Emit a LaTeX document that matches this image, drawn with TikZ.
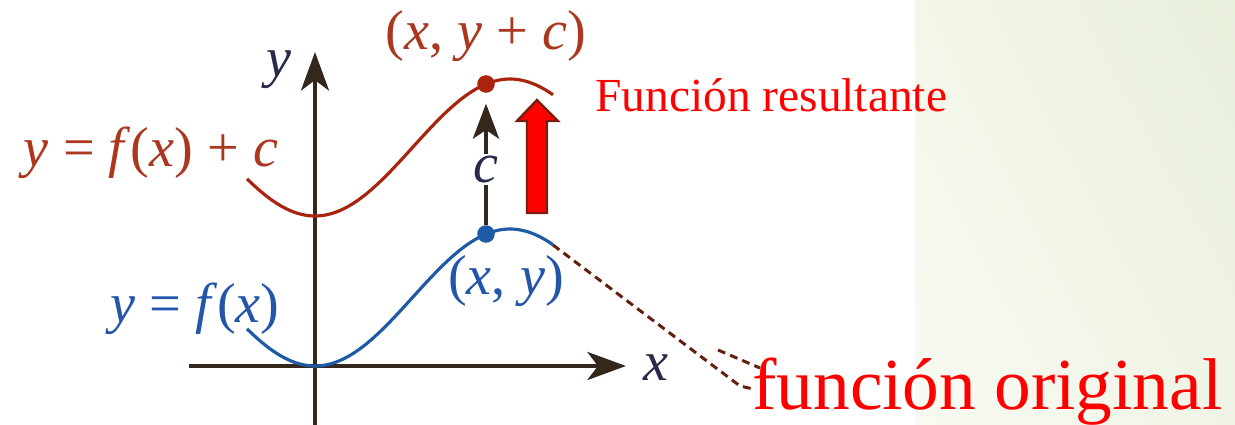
\documentclass[tikz,border=0pt]{standalone}
\usepackage{fontspec}
\setmainfont{Liberation Serif}
\usetikzlibrary{arrows.meta,shadings}
\definecolor{AxisInk}{RGB}{52,40,28}
\definecolor{AxisLbl}{RGB}{40,42,75}
\definecolor{CurveBlue}{RGB}{30,90,165}
\definecolor{CurveRed}{RGB}{170,35,12}
\definecolor{LabelRed}{RGB}{170,55,30}
\definecolor{LabelBlue}{RGB}{35,85,170}
\definecolor{DashBrown}{RGB}{100,32,14}
\definecolor{ArrowEdge}{RGB}{120,30,15}
\definecolor{BgTL}{RGB}{243,246,233}
\definecolor{BgTR}{RGB}{232,239,219}
\definecolor{BgBL}{RGB}{249,251,243}
\definecolor{BgBR}{RGB}{240,244,230}
\tikzset{
  axis/.style={line width=2pt,draw=AxisInk,-{Stealth[length=22pt,width=16pt,inset=6pt]}},
  curve/.style={line width=1.8pt,domain=247:553,samples=80},
  dot/.style={circle,inner sep=0pt,minimum size=10pt},
  mathlbl/.style={font=\fontsize{32pt}{34pt}\selectfont,inner sep=1pt},
  shiftarrow/.style={line width=1.8pt,draw=AxisInk,-{Stealth[length=20pt,width=15pt,inset=5pt]}},
  guide/.style={line width=1.7pt,draw=DashBrown,dash pattern=on 4.5pt off 3pt},
  note/.style={text=red,inner sep=0pt,anchor=base west}
}
\newcommand{\vi}[1]{\textit{#1}}

\begin{document}
\begin{tikzpicture}[x=0.02cm,y=-0.02cm]
\useasboundingbox (0,0) rectangle (1235,425);
% pale backdrop on the right
\shade[upper left=BgTL,upper right=BgTR,lower left=BgBL,lower right=BgBR] (915,0) rectangle (1235,425);

% axes
\coordinate (xleft) at (189,366);
\coordinate (xright) at (626,366);
\coordinate (ybot) at (315,425);
\coordinate (ytop) at (315,52);
\draw[axis] (xleft) -- (xright);
\draw[axis] (ybot) -- (ytop);
\node[mathlbl,text=AxisLbl] (xlbl) at (656,368) {\vi{x}};
\node[mathlbl,text=AxisLbl] (ylbl) at (279,70) {\vi{y}};

% original and shifted curves
\draw[curve,CurveBlue] plot (\x,{366-68.5*(1-cos((\x-315)/195*180))});
\draw[curve,CurveRed] plot (\x,{216-68.5*(1-cos((\x-315)/195*180))});
\node[dot,fill=CurveBlue] (ptorig) at (486,234) {};
\node[dot,fill=CurveRed] (ptres) at (486,84) {};

% vertical shift by c
\draw[shiftarrow,shorten >=6pt] (ptorig) -- node[pos=0.42,fill=white,mathlbl,text=AxisLbl] (clbl) {\vi{c}} (ptres);
\draw[line width=1.4pt,draw=ArrowEdge,fill=red] (537,100) -- (558,121) -- (547,121) -- (547,213) -- (527,213) -- (527,121) -- (517,121) -- cycle;

% labels
\node[mathlbl,text=LabelRed] (lblres) at (486,36) {(\vi{x}, \vi{y} + \vi{c})};
\node[mathlbl,text=LabelRed] (eqres) at (151,153) {\vi{y} = \vi{f}(\vi{x}) + \vi{c}};
\node[mathlbl,text=LabelBlue] (eqorig) at (195,309) {\vi{y} = \vi{f}(\vi{x})};
\node[mathlbl,text=LabelBlue] (lblorig) at (506,281) {(\vi{x}, \vi{y})};
\node[note,font=\fontsize{27pt}{30pt}\selectfont] (restxt) at (595,112) {Función resultante};
\node[note,font=\fontsize{41.7pt}{44pt}\selectfont] (origtxt) at (752,410) {función original};

% dashed pointers to the caption
\coordinate (origend) at (553,245);
\coordinate (bend) at (740,386);
\coordinate (tagend) at (753,389);
\coordinate (tickstart) at (718,350);
\coordinate (tickend) at (760,368);
\draw[guide] (origend) -- (bend) -- (tagend);
\draw[guide] (tickstart) -- (tickend);
\end{tikzpicture}
\end{document}
